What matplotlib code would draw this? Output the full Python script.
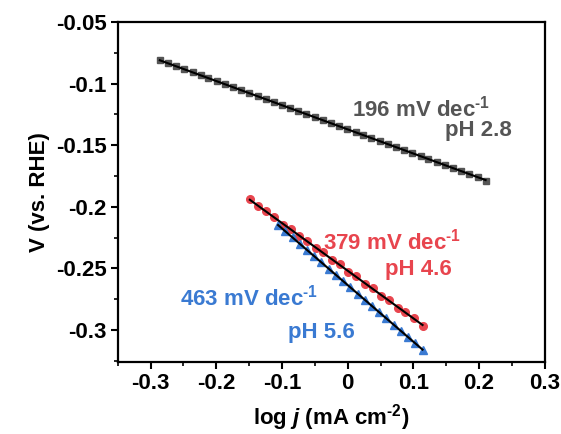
import matplotlib
matplotlib.use("Agg")
import matplotlib.pyplot as plt
import numpy as np
from matplotlib.ticker import MultipleLocator

plt.rcParams["font.family"] = ["Liberation Sans", "DejaVu Sans"]
plt.rcParams["font.weight"] = "bold"
plt.rcParams["mathtext.fontset"] = "custom"
plt.rcParams["mathtext.rm"] = "Liberation Sans:bold"
plt.rcParams["mathtext.it"] = "Liberation Sans:bold:italic"
plt.rcParams["mathtext.bf"] = "Liberation Sans:bold"

# pH 2.8 (squares)
x_28 = [-0.286, -0.274, -0.261, -0.249, -0.236, -0.224, -0.212, -0.199, -0.187, -0.174,
        -0.162, -0.150, -0.137, -0.125, -0.112, -0.100, -0.088, -0.075, -0.063, -0.050,
        -0.038, -0.026, -0.013, -0.001, 0.012, 0.024, 0.036, 0.049, 0.061, 0.074,
        0.086, 0.098, 0.111, 0.123, 0.136, 0.148, 0.160, 0.173, 0.185, 0.198, 0.210]
y_28 = [-0.0810, -0.0834, -0.0859, -0.0883, -0.0908, -0.0932, -0.0955, -0.0981, -0.1004, -0.1030,
        -0.1053, -0.1077, -0.1102, -0.1126, -0.1151, -0.1175, -0.1198, -0.1224, -0.1247, -0.1273,
        -0.1296, -0.1320, -0.1345, -0.1369, -0.1394, -0.1418, -0.1441, -0.1467, -0.1490, -0.1516,
        -0.1539, -0.1563, -0.1588, -0.1612, -0.1637, -0.1661, -0.1684, -0.1710, -0.1733, -0.1759, -0.1790]

# pH 4.6 (circles)
x_46 = [-0.149, -0.137, -0.124, -0.112, -0.099, -0.087, -0.074, -0.062, -0.049, -0.037, -0.024,
        -0.012, 0.001, 0.013, 0.026, 0.038, 0.051, 0.063, 0.076, 0.088, 0.101, 0.114]
y_46 = [-0.1940, -0.1995, -0.2030, -0.2080, -0.2145, -0.2180, -0.2240, -0.2275, -0.2335, -0.2370, -0.2432,
        -0.2468, -0.2530, -0.2565, -0.2625, -0.2660, -0.2722, -0.2758, -0.2818, -0.2852, -0.2905, -0.2965]

# pH 5.6 (triangles)
x_56 = [-0.106, -0.095, -0.084, -0.073, -0.062, -0.051, -0.040, -0.029, -0.018, -0.007, 0.004,
        0.015, 0.026, 0.037, 0.048, 0.059, 0.070, 0.081, 0.092, 0.103, 0.114]
y_56 = [-0.2148, -0.2199, -0.2249, -0.2300, -0.2350, -0.2401, -0.2452, -0.2502, -0.2553, -0.2603, -0.2654,
        -0.2705, -0.2755, -0.2806, -0.2856, -0.2907, -0.2958, -0.3008, -0.3059, -0.3109, -0.3160]

slopes = ["196", "379", "463"]
ph_labels = ["pH 2.8", "pH 4.6", "pH 5.6"]
colors = ["#555555", "#e8454e", "#3a7ad2"]

fig = plt.figure(figsize=(5.61, 4.34), dpi=100)
ax = fig.add_axes([0.210, 0.166, 0.761, 0.783])

series = [(x_28, y_28, "s", 4.5), (x_46, y_46, "o", 5.5), (x_56, y_56, "^", 6)]
for (xs, ys, mk, ms), c in zip(series, colors):
    xs = np.array(xs)
    ys = np.array(ys)
    ax.plot(xs, ys, mk, color=c, ms=ms, mec=c, zorder=2)
    b, a = np.polyfit(xs, ys, 1)
    xf = np.array([xs.min(), xs.max()])
    ax.plot(xf, a + b * xf, color="black", lw=1.5, zorder=3)

fs = 16
sup = r" mV dec$^{\text{-1}}$"
ax.text(0.006, -0.1198, slopes[0] + sup, color=colors[0], fontsize=fs,
        ha="left", va="center", weight="bold")
ax.text(0.250, -0.1377, ph_labels[0], color=colors[0], fontsize=fs, ha="right", va="center", weight="bold")
ax.text(-0.038, -0.2286, slopes[1] + sup, color=colors[1], fontsize=fs,
        ha="left", va="center", weight="bold")
ax.text(0.158, -0.2513, ph_labels[1], color=colors[1], fontsize=fs, ha="right", va="center", weight="bold")
ax.text(-0.256, -0.274, slopes[2] + sup, color=colors[2], fontsize=fs,
        ha="left", va="center", weight="bold")
ax.text(0.011, -0.3024, ph_labels[2], color=colors[2], fontsize=fs, ha="right", va="center", weight="bold")

ax.set_xlim(-0.35, 0.3)
ax.set_ylim(-0.326, -0.05)
ax.xaxis.set_minor_locator(MultipleLocator(0.05))
ax.yaxis.set_minor_locator(MultipleLocator(0.025))
ax.set_xticks([-0.3, -0.2, -0.1, 0, 0.1, 0.2, 0.3])
ax.set_xticklabels(["-0.3", "-0.2", "-0.1", "0", "0.1", "0.2", "0.3"])
ax.set_yticks([-0.3, -0.25, -0.2, -0.15, -0.1, -0.05])
ax.set_yticklabels(["-0.3", "-0.25", "-0.2", "-0.15", "-0.1", "-0.05"])
ax.tick_params(which="major", direction="out", length=5, width=1.5, labelsize=fs, pad=3)
ax.tick_params(which="minor", direction="out", length=3, width=1.2)
for s in ax.spines.values():
    s.set_linewidth(1.6)

ax.set_xlabel(r"log $j$ (mA cm$^{\text{-2}}$)", fontsize=fs, weight="bold", labelpad=6)
ax.set_ylabel("V (vs. RHE)", fontsize=fs, weight="bold", labelpad=4)

fig.savefig("out.png", dpi=100)
